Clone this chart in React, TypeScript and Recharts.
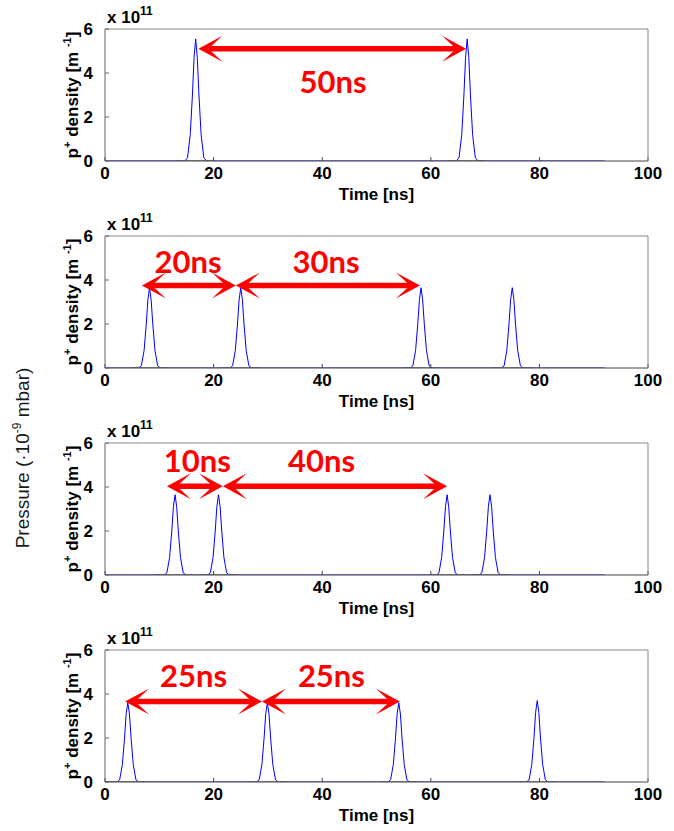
import { LineChart, Line, XAxis, YAxis, ReferenceLine } from "recharts";

// time axis [ns] and density axis [x 1e11 m^-1]
const xTicks = [0, 20, 40, 60, 80, 100];
const yTicks = [0, 2, 4, 6];

// [time ns, density x1e11]
const p1Density: [number, number][] = [
  [0, 0], [14.7, 0], [15.2, 0.15], [15.7, 1.2], [16.1, 3.0], [16.4, 4.7], [16.7, 5.55], [17.0, 4.7], [17.3, 3.0], [17.7, 1.2], [18.2, 0.15], [18.7, 0],
  [64.7, 0], [65.2, 0.15], [65.7, 1.2], [66.1, 3.0], [66.4, 4.7], [66.7, 5.55], [67.0, 4.7], [67.3, 3.0], [67.7, 1.2], [68.2, 0.15], [68.7, 0],
  [92, 0],
];
const p2Density: [number, number][] = [
  [0, 0], [6.2, 0], [6.7, 0.1], [7.2, 0.8], [7.6, 2.0], [7.9, 3.1], [8.2, 3.65], [8.5, 3.1], [8.8, 2.0], [9.2, 0.8], [9.7, 0.1], [10.2, 0],
  [23.0, 0], [23.5, 0.1], [24.0, 0.8], [24.4, 2.0], [24.7, 3.1], [25.0, 3.65], [25.3, 3.1], [25.6, 2.0], [26.0, 0.8], [26.5, 0.1], [27.0, 0],
  [56.2, 0], [56.7, 0.1], [57.2, 0.8], [57.6, 2.0], [57.9, 3.1], [58.2, 3.65], [58.5, 3.1], [58.8, 2.0], [59.2, 0.8], [59.7, 0.1], [60.2, 0],
  [73.0, 0], [73.5, 0.1], [74.0, 0.8], [74.4, 2.0], [74.7, 3.1], [75.0, 3.65], [75.3, 3.1], [75.6, 2.0], [76.0, 0.8], [76.5, 0.1], [77.0, 0],
  [92, 0],
];
const p3Density: [number, number][] = [
  [0, 0], [10.9, 0], [11.4, 0.1], [11.9, 0.8], [12.3, 2.0], [12.6, 3.1], [12.9, 3.65], [13.2, 3.1], [13.5, 2.0], [13.9, 0.8], [14.4, 0.1], [14.9, 0],
  [18.9, 0], [19.4, 0.1], [19.9, 0.8], [20.3, 2.0], [20.6, 3.1], [20.9, 3.65], [21.2, 3.1], [21.5, 2.0], [21.9, 0.8], [22.4, 0.1], [22.9, 0],
  [61.0, 0], [61.5, 0.1], [62.0, 0.8], [62.4, 2.0], [62.7, 3.1], [63.0, 3.65], [63.3, 3.1], [63.6, 2.0], [64.0, 0.8], [64.5, 0.1], [65.0, 0],
  [68.9, 0], [69.4, 0.1], [69.9, 0.8], [70.3, 2.0], [70.6, 3.1], [70.9, 3.65], [71.2, 3.1], [71.5, 2.0], [71.9, 0.8], [72.4, 0.1], [72.9, 0],
  [92, 0],
];
const p4Density: [number, number][] = [
  [0, 0], [2.2, 0], [2.7, 0.1], [3.2, 0.8], [3.6, 2.0], [3.9, 3.1], [4.2, 3.6], [4.5, 3.1], [4.8, 2.0], [5.2, 0.8], [5.7, 0.1], [6.2, 0],
  [27.9, 0], [28.4, 0.1], [28.9, 0.8], [29.3, 2.0], [29.6, 3.1], [29.9, 3.6], [30.2, 3.1], [30.5, 2.0], [30.9, 0.8], [31.4, 0.1], [31.9, 0],
  [52.1, 0], [52.6, 0.1], [53.1, 0.8], [53.5, 2.0], [53.8, 3.1], [54.1, 3.6], [54.4, 3.1], [54.7, 2.0], [55.1, 0.8], [55.6, 0.1], [56.1, 0],
  [77.6, 0], [78.1, 0.1], [78.6, 0.8], [79.0, 2.0], [79.3, 3.15], [79.6, 3.7], [79.9, 3.15], [80.2, 2.0], [80.6, 0.8], [81.1, 0.1], [81.6, 0],
  [92, 0],
];

// grey baseline stretches under each bunch [start, end] ns
const p1Floor: [number, number][] = [[13.3, 20.1], [63.3, 70.1]];
const p2Floor: [number, number][] = [[4.8, 11.6], [21.6, 28.4], [54.8, 61.6], [71.6, 78.4]];
const p3Floor: [number, number][] = [[9.5, 16.3], [17.5, 24.3], [59.6, 66.4], [67.5, 74.3]];
const p4Floor: [number, number][] = [[0.8, 7.6], [26.5, 33.3], [50.7, 57.5], [76.2, 83.0]];

// spacing arrows: from/to/labelAt in ns, y in density units
type Arrow = { from: number; to: number; y: number; labelAt: number; label: string };
const p1Arrows: Arrow[] = [{ from: 17.2, to: 66.5, y: 5.1, labelAt: 42.0, label: "50ns" }];
const p2Arrows: Arrow[] = [
  { from: 6.8, to: 24.1, y: 3.75, labelAt: 15.3, label: "20ns" },
  { from: 24.1, to: 58.0, y: 3.75, labelAt: 40.7, label: "30ns" },
];
const p3Arrows: Arrow[] = [
  { from: 11.4, to: 21.7, y: 4.03, labelAt: 17.0, label: "10ns" },
  { from: 21.7, to: 63.0, y: 4.03, labelAt: 39.9, label: "40ns" },
];
const p4Arrows: Arrow[] = [
  { from: 3.7, to: 28.9, y: 3.66, labelAt: 16.3, label: "25ns" },
  { from: 28.9, to: 54.3, y: 3.66, labelAt: 41.7, label: "25ns" },
];

const FONT = "'Liberation Sans', Arial, Helvetica, sans-serif";
const RED = "#ff0000";

const arrowShape = (a: Arrow, labelDy: number) => (p: any) => {
  const { x1, y1, x2 } = p;
  const len = 24, half = 13, notch = 10;
  const left = `M${x1},${y1} L${x1 + len},${y1 - half} L${x1 + notch},${y1} L${x1 + len},${y1 + half} Z`;
  const right = `M${x2},${y1} L${x2 - len},${y1 - half} L${x2 - notch},${y1} L${x2 - len},${y1 + half} Z`;
  const lx = x1 + ((a.labelAt - a.from) / (a.to - a.from)) * (x2 - x1);
  return (
    <g>
      <line x1={x1 + notch} y1={y1} x2={x2 - notch} y2={y1} stroke={RED} strokeWidth={5.5} />
      <path d={left} fill={RED} />
      <path d={right} fill={RED} />
      <text x={lx} y={y1 + labelDy} textAnchor="middle" dominantBaseline="central"
        fontFamily="Lato, 'Open Sans', sans-serif" fontWeight="bold" fontSize={31} fill={RED}>
        {a.label}
      </text>
    </g>
  );
};

const densityLabel = (props: any) => {
  const vb = props.viewBox;
  const cx = vb.x + 13;
  const cy = vb.y + vb.height / 2;
  return (
    <g>
      <text transform={`translate(${cx},${cy}) rotate(-90)`} textAnchor="middle"
        fontFamily={FONT} fontWeight="bold" fontSize={17} fill="#000">
        p<tspan dy={-7} fontSize={11}>+</tspan>
        <tspan dy={7}> density [m </tspan>
        <tspan dy={-7} fontSize={11}>-1</tspan>
        <tspan dy={7}>]</tspan>
      </text>
      <text x={vb.x + vb.width + 2} y={vb.y - 6} fontFamily={FONT} fontWeight="bold" fontSize={17} fill="#000">
        x 10<tspan dy={-8} fontSize={12}>11</tspan>
      </text>
    </g>
  );
};

const timeLabel = (props: any) => {
  const vb = props.viewBox;
  return (
    <text x={vb.x + vb.width / 2} y={vb.y + 39} textAnchor="middle"
      fontFamily={FONT} fontWeight="bold" fontSize={17} fill="#000">
      Time [ns]
    </text>
  );
};

type PanelProps = {
  top: number;
  density: [number, number][];
  floor: [number, number][];
  arrows: Arrow[];
  labelDy: number;
};

function Panel({ top, density, floor, arrows, labelDy }: PanelProps) {
  const tickStyle = { fill: "#000", fontSize: 17, fontWeight: "bold", fontFamily: FONT };
  const floorData = floor.map(([s, e]) => [{ t: s, v: 0 }, { t: e, v: 0 }]);
  return (
    <div style={{ position: "absolute", left: 0, top, width: 674, height: 207 }}>
      <LineChart width={674} height={207} margin={{ top: 28, right: 25, bottom: 16, left: 65 }}>
        <XAxis xAxisId={0} dataKey="t" type="number" domain={[0, 100]} ticks={xTicks} allowDataOverflow
          height={30} tickSize={-4} tickMargin={10} stroke="#444" tick={tickStyle} label={timeLabel} />
        <XAxis xAxisId="top" dataKey="t" orientation="top" type="number" domain={[0, 100]} ticks={xTicks} allowDataOverflow
          height={1} tickSize={-4} tickMargin={0} tick={false} stroke="#888" />
        <YAxis yAxisId={0} type="number" domain={[0, 6]} ticks={yTicks} allowDataOverflow
          width={40} tickSize={-4} tickMargin={16} stroke="#666" tick={tickStyle} label={densityLabel} />
        <YAxis yAxisId="right" orientation="right" type="number" domain={[0, 6]} ticks={yTicks} allowDataOverflow
          width={1} tickSize={-4} tickMargin={0} tick={false} stroke="#888" />
        <Line data={density.map(([t, v]) => ({ t, v }))} dataKey="v" type="linear" stroke="#0000ff"
          strokeWidth={1} dot={false} isAnimationActive={false} />
        {floorData.map((d, i) => (
          <Line key={i} data={d} dataKey="v" type="linear" stroke="#666"
            strokeWidth={1.3} dot={false} isAnimationActive={false} />
        ))}
        {/* invisible series tied to the top/right frame axes so they get drawn */}
        <Line data={floorData[0]} dataKey="v" xAxisId="top" yAxisId="right" stroke="none"
          dot={false} isAnimationActive={false} />
        {arrows.map((a, i) => (
          <ReferenceLine key={i} segment={[{ x: a.from, y: a.y }, { x: a.to, y: a.y }]}
            shape={arrowShape(a, labelDy)} />
        ))}
      </LineChart>
    </div>
  );
}

export default function App() {
  return (
    <div style={{ position: "absolute", left: 0, top: 0, width: 674, height: 831, background: "#fff" }}>
      <Panel top={0} density={p1Density} floor={p1Floor} arrows={p1Arrows} labelDy={32} />
      <Panel top={207} density={p2Density} floor={p2Floor} arrows={p2Arrows} labelDy={-25} />
      <Panel top={414} density={p3Density} floor={p3Floor} arrows={p3Arrows} labelDy={-26} />
      <Panel top={621} density={p4Density} floor={p4Floor} arrows={p4Arrows} labelDy={-26} />
      <svg style={{ position: "absolute", left: 0, top: 0 }} width={44} height={831}>
        <text transform="translate(29,458) rotate(-90)" textAnchor="middle" fontFamily={FONT}
          fontSize={19} fill="#1a1a1a">
          Pressure (·10<tspan dy={-8} fontSize={12}>-9</tspan>
          <tspan dy={8}> mbar)</tspan>
        </text>
      </svg>
    </div>
  );
}
